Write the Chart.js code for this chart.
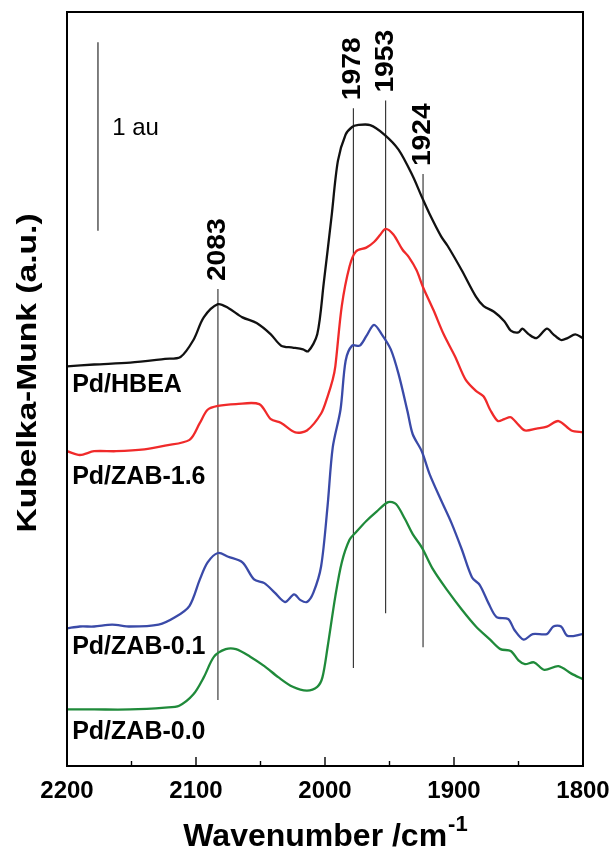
<!DOCTYPE html>
<html>
<head>
<meta charset="utf-8">
<script src="https://cdn.jsdelivr.net/npm/chart.js@4.4.1/dist/chart.umd.min.js"></script>
<style>
  html, body { margin: 0; padding: 0; background: #fff; }
  #wrap { width: 613px; height: 857px; }
</style>
</head>
<body>
<div id="wrap"><canvas id="drifts" width="613" height="857"></canvas></div>
<script>
// wavenumber (cm-1) and Kubelka-Munk (au, stacked)
const hbeaWn = [2200, 2179, 2151, 2124, 2112, 2102, 2094, 2083, 2075, 2064, 2053, 2042, 2034, 2025, 2017, 2013, 2006, 2001, 1995, 1990, 1984, 1979, 1975, 1965, 1954, 1943, 1932, 1925, 1919, 1910, 1905, 1894, 1883, 1877, 1869, 1861, 1856, 1850, 1847, 1842, 1836, 1828, 1823, 1817, 1812, 1806, 1800];
const hbeaKM = [2.12, 2.13, 2.14, 2.16, 2.17, 2.26, 2.38, 2.45, 2.43, 2.38, 2.35, 2.29, 2.23, 2.22, 2.21, 2.20, 2.29, 2.56, 2.91, 3.21, 3.35, 3.39, 3.40, 3.40, 3.35, 3.27, 3.13, 3.02, 2.93, 2.81, 2.76, 2.63, 2.49, 2.44, 2.41, 2.36, 2.31, 2.30, 2.32, 2.29, 2.27, 2.32, 2.29, 2.26, 2.27, 2.29, 2.27];

const zab16Wn = [2200, 2190, 2179, 2162, 2140, 2124, 2105, 2097, 2091, 2083, 2069, 2051, 2042, 2034, 2023, 2014, 2003, 1998, 1994, 1992, 1987, 1981, 1976, 1968, 1962, 1957, 1953, 1947, 1940, 1935, 1929, 1924, 1916, 1908, 1899, 1891, 1883, 1877, 1872, 1866, 1861, 1856, 1850, 1845, 1836, 1828, 1819, 1809, 1800];
const zab16KM = [1.67, 1.65, 1.67, 1.67, 1.68, 1.70, 1.73, 1.82, 1.89, 1.91, 1.92, 1.92, 1.84, 1.82, 1.77, 1.78, 1.87, 1.96, 2.05, 2.12, 2.44, 2.65, 2.73, 2.75, 2.78, 2.82, 2.85, 2.82, 2.74, 2.70, 2.63, 2.54, 2.42, 2.29, 2.17, 2.05, 1.99, 1.96, 1.89, 1.83, 1.84, 1.85, 1.81, 1.78, 1.79, 1.80, 1.83, 1.78, 1.77];

const zab01Wn = [2200, 2190, 2179, 2165, 2151, 2129, 2116, 2105, 2097, 2091, 2083, 2075, 2064, 2055, 2047, 2039, 2031, 2024, 2019, 2014, 2009, 2003, 1998, 1994, 1988, 1984, 1979, 1973, 1968, 1962, 1956, 1949, 1943, 1936, 1932, 1925, 1919, 1910, 1902, 1894, 1886, 1880, 1873, 1867, 1858, 1853, 1846, 1839, 1828, 1823, 1817, 1812, 1800];
const zab01KM = [0.73, 0.74, 0.74, 0.75, 0.74, 0.75, 0.79, 0.85, 0.99, 1.08, 1.13, 1.11, 1.08, 0.99, 0.97, 0.92, 0.87, 0.91, 0.88, 0.87, 0.92, 1.06, 1.38, 1.69, 1.89, 2.15, 2.23, 2.23, 2.28, 2.34, 2.29, 2.21, 2.08, 1.88, 1.76, 1.67, 1.55, 1.41, 1.29, 1.15, 1.00, 0.96, 0.86, 0.79, 0.78, 0.72, 0.67, 0.70, 0.70, 0.74, 0.74, 0.69, 0.70];

const zab00Wn = [2200, 2179, 2151, 2124, 2113, 2102, 2094, 2086, 2077, 2069, 2058, 2047, 2036, 2025, 2014, 2006, 2002, 1998, 1992, 1987, 1981, 1976, 1968, 1960, 1951, 1945, 1938, 1932, 1925, 1916, 1905, 1894, 1883, 1872, 1864, 1856, 1850, 1845, 1838, 1830, 1819, 1809, 1800];
const zab00KM = [0.30, 0.30, 0.30, 0.31, 0.32, 0.38, 0.47, 0.58, 0.62, 0.62, 0.58, 0.53, 0.47, 0.42, 0.40, 0.42, 0.47, 0.63, 0.90, 1.08, 1.20, 1.24, 1.30, 1.35, 1.40, 1.39, 1.31, 1.23, 1.16, 1.04, 0.93, 0.83, 0.74, 0.67, 0.62, 0.61, 0.56, 0.54, 0.55, 0.51, 0.53, 0.49, 0.46];

const sampleNames = ['Pd/HBEA', 'Pd/ZAB-1.6', 'Pd/ZAB-0.1', 'Pd/ZAB-0.0'];

// marked band positions and the vertical extent of their guide lines (au)
const peakWn = [2083, 1978, 1953, 1924];
const peakTop = [2.53, 3.49, 3.53, 3.14];
const peakBottom = [0.35, 0.52, 0.81, 0.63];

// 1 au scale bar
const barWn = 2176;
const barFrom = 2.84;
const barTo = 3.84;

const xTicks = [2200, 2100, 2000, 1900, 1800];

const FONT = "'Liberation Sans', Arial, Helvetica, sans-serif";

const colors = ['#111111', '#f02a2a', '#3a4aa8', '#1f8a3a'];
const seriesWn = [hbeaWn, zab16Wn, zab01Wn, zab00Wn];
const seriesKM = [hbeaKM, zab16KM, zab01KM, zab00KM];

const datasets = sampleNames.map((name, k) => ({
  label: name,
  data: seriesWn[k].map((w, i) => ({ x: w, y: seriesKM[k][i] })),
  borderColor: colors[k],
  borderWidth: 2.3,
  pointRadius: 0,
  tension: 0.3,
  fill: false
}));

peakWn.forEach((w, i) => {
  datasets.push({
    label: 'peak ' + w,
    data: [{ x: w, y: peakBottom[i] }, { x: w, y: peakTop[i] }],
    borderColor: '#2a2a2a',
    borderWidth: 1.1,
    pointRadius: 0,
    fill: false
  });
});

datasets.push({
  label: 'scale',
  data: [{ x: barWn, y: barFrom }, { x: barWn, y: barTo }],
  borderColor: '#555',
  borderWidth: 1.5,
  pointRadius: 0,
  fill: false
});

// where the sample names sit (wavenumber of left edge, au of text middle)
const nameAnchors = [[2196, 2.02], [2196, 1.53], [2196, 0.63], [2196, 0.18]];

function rotText(ctx, text, x, y, font, stretch, align) {
  ctx.save();
  ctx.translate(x, y);
  ctx.rotate(-Math.PI / 2);
  ctx.scale(stretch, 1);
  ctx.font = font;
  ctx.textAlign = align;
  ctx.textBaseline = 'middle';
  ctx.fillStyle = '#000';
  ctx.fillText(text, 0, 0);
  ctx.restore();
}

const decor = {
  id: 'decor',
  afterDatasetsDraw(chart) {
    const { ctx, chartArea: a, scales } = chart;
    const xs = scales.x, ys = scales.y;
    ctx.save();

    // frame
    ctx.strokeStyle = '#000';
    ctx.lineWidth = 2;
    ctx.strokeRect(a.left, a.top, a.right - a.left, a.bottom - a.top);

    // inward ticks on the bottom axis
    ctx.lineWidth = 1.4;
    for (let w = 2150; w > 1800; w -= 50) {
      const px = xs.getPixelForValue(w);
      const len = (w % 100 === 0) ? 9 : 5;
      ctx.beginPath();
      ctx.moveTo(px, a.bottom);
      ctx.lineTo(px, a.bottom - len);
      ctx.stroke();
    }

    // peak labels
    peakWn.forEach((w, i) => {
      rotText(ctx, String(w), xs.getPixelForValue(w), ys.getPixelForValue(peakTop[i]) - 8,
        'bold 25px ' + FONT, 1.13, 'left');
    });

    // sample names
    ctx.fillStyle = '#000';
    ctx.font = 'bold 25px ' + FONT;
    ctx.textAlign = 'left';
    ctx.textBaseline = 'middle';
    sampleNames.forEach((n, i) => {
      ctx.fillText(n, xs.getPixelForValue(nameAnchors[i][0]), ys.getPixelForValue(nameAnchors[i][1]));
    });

    // scale bar text
    ctx.font = '24px ' + FONT;
    ctx.fillText('1 au', xs.getPixelForValue(2165), ys.getPixelForValue(3.38));

    // y title
    rotText(ctx, 'Kubelka-Munk (a.u.)', 28, (a.top + a.bottom) / 2 - 16, 'bold 28px ' + FONT, 1.2, 'center');

    // x title with superscript
    const main = 'Wavenumber /cm';
    const sup = '-1';
    ctx.font = 'bold 32px ' + FONT;
    const wMain = ctx.measureText(main).width;
    ctx.font = 'bold 22px ' + FONT;
    const wSup = ctx.measureText(sup).width;
    const cx = (a.left + a.right) / 2;
    const start = cx - (wMain + wSup) / 2;
    ctx.textAlign = 'left';
    ctx.textBaseline = 'alphabetic';
    ctx.font = 'bold 32px ' + FONT;
    ctx.fillText(main, start, 846);
    ctx.font = 'bold 22px ' + FONT;
    ctx.fillText(sup, start + wMain + 1, 831);

    ctx.restore();
  }
};

new Chart(document.getElementById('drifts').getContext('2d'), {
  type: 'line',
  data: { datasets: datasets },
  options: {
    responsive: false,
    animation: false,
    layout: { padding: { top: 12, right: 30, left: 0, bottom: 0 } },
    plugins: {
      legend: { display: false },
      tooltip: { enabled: false }
    },
    scales: {
      x: {
        type: 'linear',
        reverse: true,
        min: 1800,
        max: 2200,
        afterFit: s => { s.height = 91; s.paddingLeft = 0; s.paddingRight = 0; },
        afterBuildTicks: s => { s.ticks = xTicks.map(v => ({ value: v })); },
        grid: { display: false, drawTicks: false },
        border: { display: false },
        ticks: {
          color: '#000',
          padding: 11,
          maxRotation: 0,
          autoSkip: false,
          callback: v => String(v),
          font: { family: FONT, size: 24, weight: 'bold' }
        }
      },
      y: {
        type: 'linear',
        min: 0,
        max: 4,
        afterFit: s => { s.width = 67; },
        grid: { display: false, drawTicks: false },
        border: { display: false },
        ticks: { display: false }
      }
    }
  },
  plugins: [decor]
});
</script>
</body>
</html>
